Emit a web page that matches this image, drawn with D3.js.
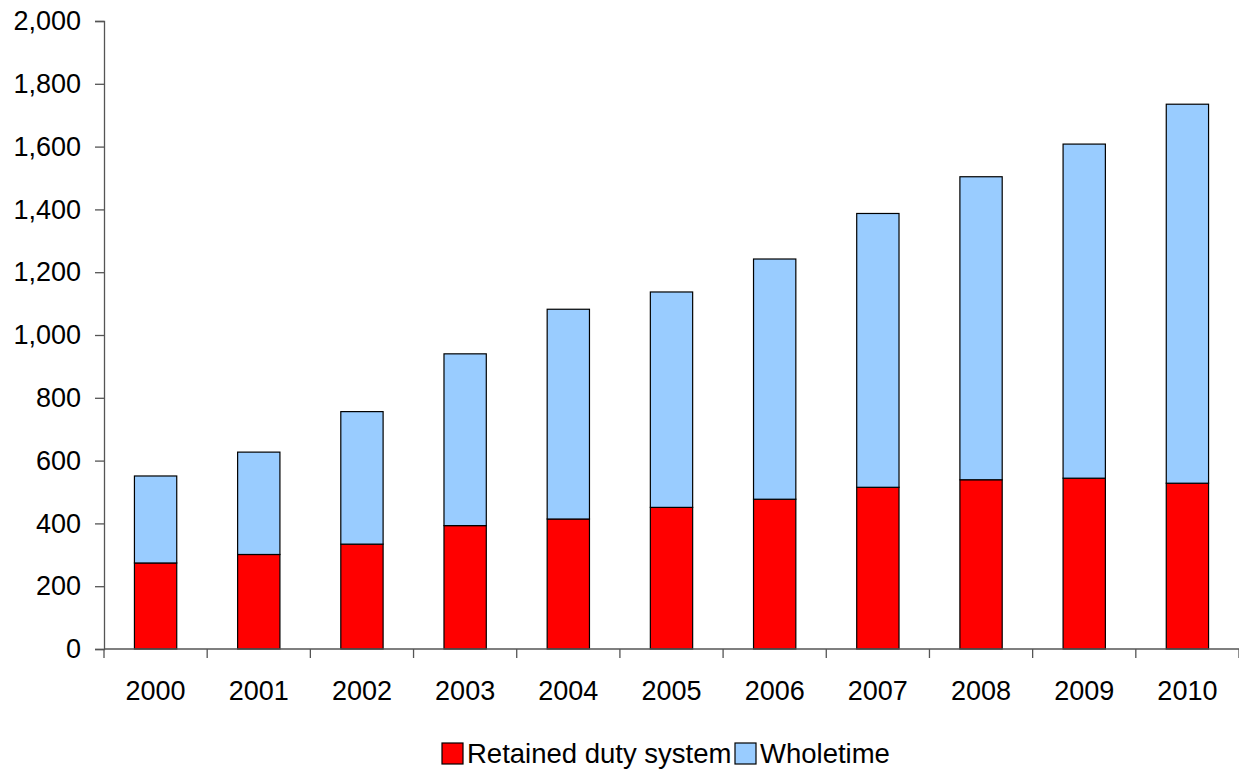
<!DOCTYPE html>
<html>
<head>
<meta charset="utf-8">
<script src="https://cdn.jsdelivr.net/npm/d3@7"></script>
<style>
  html, body { margin: 0; padding: 0; background: #fff; }
  svg { display: block; font-family: "Liberation Sans", Arial, sans-serif; }
</style>
</head>
<body>
<svg id="chart" width="1239" height="769"></svg>
<script>
const years = ["2000","2001","2002","2003","2004","2005","2006","2007","2008","2009","2010"];
const retained = [274, 301, 334, 393, 414, 451, 477, 515, 539, 544, 528];
const wholetime = [277, 326, 422, 547, 668, 686, 765, 872, 965, 1064, 1207];
const seriesNames = ["Retained duty system", "Wholetime"];
const seriesColors = ["#FF0000", "#99CCFF"];
const yTicks = [0, 200, 400, 600, 800, 1000, 1200, 1400, 1600, 1800, 2000];

(function () {
const svg = d3.select("#chart");
const mLeft = 104, mRight = 1239, mTop = 21, mBottom = 649;

const rows = years.map((y, i) => ({year: y, retained: retained[i], wholetime: wholetime[i]}));
const stack = d3.stack().keys(["retained", "wholetime"])(rows);

const slot = d3.scaleBand().domain(years).range([mLeft, mRight]).padding(0);
const x = d3.scaleBand().domain(years).range([mLeft, mRight]).paddingInner(0.59).paddingOuter(0.295);
const y = d3.scaleLinear().domain([0, 2000]).range([mBottom, mTop]);

// bars
stack.forEach((layer, li) => {
  svg.append("g")
    .selectAll("rect")
    .data(layer)
    .join("rect")
    .attr("x", d => x(d.data.year))
    .attr("width", x.bandwidth())
    .attr("y", d => y(d[1]))
    .attr("height", d => y(d[0]) - y(d[1]))
    .attr("fill", seriesColors[li])
    .attr("stroke", "#000")
    .attr("stroke-width", 1.2);
});

// y axis
const yAxis = svg.append("g")
  .attr("transform", `translate(${mLeft},0)`)
  .call(d3.axisLeft(y).tickValues(yTicks).tickSize(9).tickPadding(14).tickFormat(d3.format(",")));
yAxis.select(".domain").attr("stroke", "#555").attr("stroke-width", 1.3);
yAxis.selectAll(".tick line").attr("stroke", "#555").attr("stroke-width", 1.3);
yAxis.selectAll(".tick text").attr("font-size", 27).attr("fill", "#000")
  .attr("font-family", "'Liberation Sans', Arial, sans-serif");

// x axis
const xg = svg.append("g");
xg.append("line")
  .attr("x1", mLeft).attr("x2", mRight)
  .attr("y1", y(0)).attr("y2", y(0))
  .attr("stroke", "#555").attr("stroke-width", 1.3);
const tickXs = years.map(d => slot(d)).concat([slot(years[years.length - 1]) + slot.bandwidth()]);
xg.selectAll("line.t")
  .data(tickXs)
  .join("line")
  .attr("class", "t")
  .attr("x1", d => d).attr("x2", d => d)
  .attr("y1", y(0)).attr("y2", y(0) + 9)
  .attr("stroke", "#555").attr("stroke-width", 1.3);
xg.selectAll("text")
  .data(years)
  .join("text")
  .attr("x", d => slot(d) + slot.bandwidth() / 2)
  .attr("y", 700)
  .attr("text-anchor", "middle")
  .attr("font-size", 27)
  .attr("fill", "#000")
  .text(d => d);

// legend
const legend = svg.append("g");
const legendItems = [
  {name: seriesNames[0], color: seriesColors[0], sx: 442, tx: 467},
  {name: seriesNames[1], color: seriesColors[1], sx: 735, tx: 760}
];
legendItems.forEach(it => {
  legend.append("rect")
    .attr("x", it.sx).attr("y", 743)
    .attr("width", 21).attr("height", 21)
    .attr("fill", it.color).attr("stroke", "#000").attr("stroke-width", 1.2);
  legend.append("text")
    .attr("x", it.tx).attr("y", 763)
    .attr("font-size", 27.5)
    .attr("fill", "#000")
    .text(it.name);
});
})();
</script>
</body>
</html>
